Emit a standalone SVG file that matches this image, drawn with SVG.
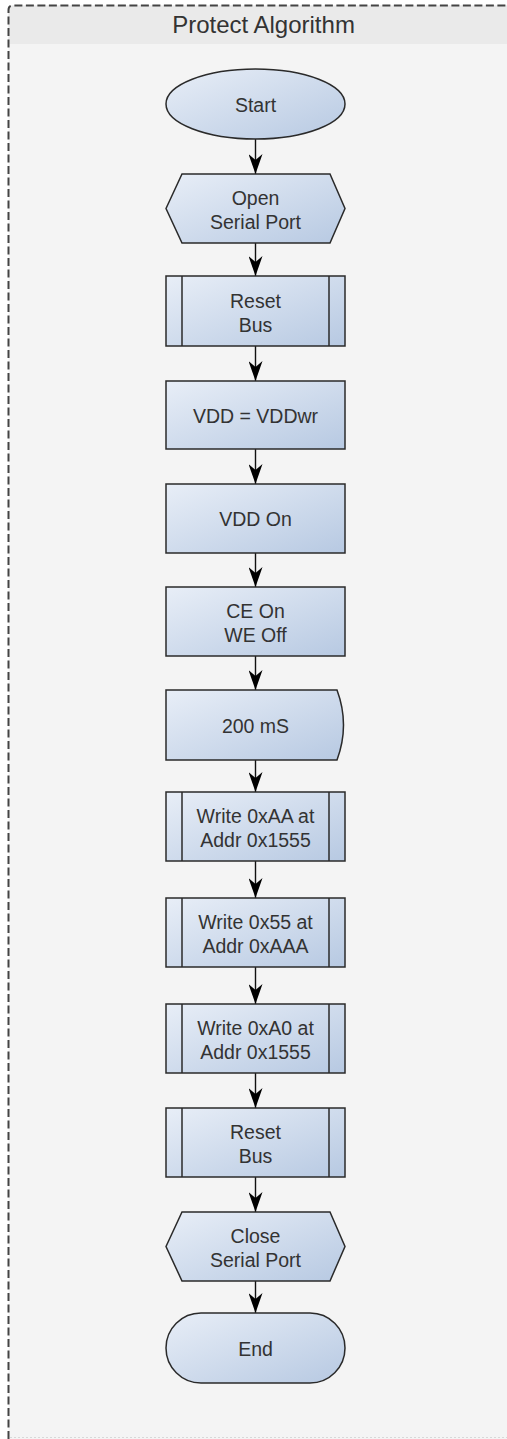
<svg xmlns="http://www.w3.org/2000/svg" width="507" height="1439" viewBox="0 0 507 1439">
<style>
.shape{fill:url(#g);stroke:#2a2a2a;stroke-width:1.5}
.inner{stroke:#2a2a2a;stroke-width:1.5;fill:none}
.t{font-family:"Liberation Sans",Arial,sans-serif;font-size:19.5px;fill:#333;text-anchor:middle}
.conn line{stroke:#111;stroke-width:1.4;marker-end:url(#ah)}
</style>
<defs>
<linearGradient id="g" x1="0" y1="0" x2="1" y2="1">
<stop offset="0" stop-color="#e8eef7"/>
<stop offset="1" stop-color="#b7c9e2"/>
</linearGradient>
<marker id="ah" viewBox="0 0 20 14" refX="20" refY="7" markerWidth="20" markerHeight="14" markerUnits="userSpaceOnUse" orient="auto">
<path d="M0,0 L20,7 L0,14 L6,7 z" fill="#000"/>
</marker>
</defs>
<rect x="0" y="0" width="507" height="1439" fill="#fff"/>
<g id="frame">
<path d="M8.5,1439 V10 Q8.5,5.5 13,5.5 H507 V1439 Z" fill="#f4f4f4"/>
<path d="M8.5,44 V10 Q8.5,5.5 13,5.5 H507 V44 Z" fill="#eaeaea"/>
<path d="M8.5,1439 V10 Q8.5,5.5 13,5.5 H507" fill="none" stroke="#444" stroke-width="2" stroke-dasharray="8,3.5"/>
<line x1="10" y1="1437.5" x2="507" y2="1437.5" stroke="#d8d8d8" stroke-width="1" stroke-dasharray="2,2"/>
<text x="263.5" y="33" font-family="'Liberation Sans',Arial,sans-serif" font-size="24" fill="#333" text-anchor="middle">Protect Algorithm</text>
</g>
<g id="connectors" class="conn">
<line x1="255.5" y1="139" x2="255.5" y2="174"/>
<line x1="255.5" y1="243" x2="255.5" y2="276"/>
<line x1="255.5" y1="346" x2="255.5" y2="381"/>
<line x1="255.5" y1="449" x2="255.5" y2="484"/>
<line x1="255.5" y1="553" x2="255.5" y2="587"/>
<line x1="255.5" y1="656" x2="255.5" y2="690"/>
<line x1="255.5" y1="760" x2="255.5" y2="792"/>
<line x1="255.5" y1="861" x2="255.5" y2="898"/>
<line x1="255.5" y1="967" x2="255.5" y2="1004"/>
<line x1="255.5" y1="1073" x2="255.5" y2="1108"/>
<line x1="255.5" y1="1177" x2="255.5" y2="1212"/>
<line x1="255.5" y1="1281" x2="255.5" y2="1313"/>
</g>
<g id="start">
<ellipse class="shape" cx="255.5" cy="104" rx="89.5" ry="35"/>
<text class="t" x="255.5" y="112">Start</text>
</g>
<g id="open-port">
<path class="shape" d="M166,208.5 L182,174 H330 L345,208.5 L330,243 H182 Z"/>
<text class="t" x="255.5" y="205">Open</text>
<text class="t" x="255.5" y="229">Serial Port</text>
</g>
<g id="reset-bus-1">
<rect class="shape" x="166" y="276" width="179" height="70"/>
<line class="inner" x1="182" y1="276" x2="182" y2="346"/>
<line class="inner" x1="329" y1="276" x2="329" y2="346"/>
<text class="t" x="255.5" y="308">Reset</text>
<text class="t" x="255.5" y="332">Bus</text>
</g>
<g id="vdd-set">
<rect class="shape" x="166" y="381" width="179" height="68"/>
<text class="t" x="255.5" y="423">VDD = VDDwr</text>
</g>
<g id="vdd-on">
<rect class="shape" x="166" y="484" width="179" height="69"/>
<text class="t" x="255.5" y="526">VDD On</text>
</g>
<g id="ce-we">
<rect class="shape" x="166" y="587" width="179" height="69"/>
<text class="t" x="255.5" y="618">CE On</text>
<text class="t" x="255.5" y="642">WE Off</text>
</g>
<g id="delay">
<path class="shape" d="M166,690 H337 Q350,725 337,760 H166 Z"/>
<text class="t" x="255.5" y="733">200 mS</text>
</g>
<g id="write-aa">
<rect class="shape" x="166" y="792" width="179" height="69"/>
<line class="inner" x1="182" y1="792" x2="182" y2="861"/>
<line class="inner" x1="329" y1="792" x2="329" y2="861"/>
<text class="t" x="255.5" y="823">Write 0xAA at</text>
<text class="t" x="255.5" y="847">Addr 0x1555</text>
</g>
<g id="write-55">
<rect class="shape" x="166" y="898" width="179" height="69"/>
<line class="inner" x1="182" y1="898" x2="182" y2="967"/>
<line class="inner" x1="329" y1="898" x2="329" y2="967"/>
<text class="t" x="255.5" y="929">Write 0x55 at</text>
<text class="t" x="255.5" y="953">Addr 0xAAA</text>
</g>
<g id="write-a0">
<rect class="shape" x="166" y="1004" width="179" height="69"/>
<line class="inner" x1="182" y1="1004" x2="182" y2="1073"/>
<line class="inner" x1="329" y1="1004" x2="329" y2="1073"/>
<text class="t" x="255.5" y="1035">Write 0xA0 at</text>
<text class="t" x="255.5" y="1059">Addr 0x1555</text>
</g>
<g id="reset-bus-2">
<rect class="shape" x="166" y="1108" width="179" height="69"/>
<line class="inner" x1="182" y1="1108" x2="182" y2="1177"/>
<line class="inner" x1="329" y1="1108" x2="329" y2="1177"/>
<text class="t" x="255.5" y="1139">Reset</text>
<text class="t" x="255.5" y="1163">Bus</text>
</g>
<g id="close-port">
<path class="shape" d="M166,1246.5 L182,1212 H330 L345,1246.5 L330,1281 H182 Z"/>
<text class="t" x="255.5" y="1243">Close</text>
<text class="t" x="255.5" y="1267">Serial Port</text>
</g>
<g id="end">
<rect class="shape" x="166" y="1313" width="179" height="70" rx="35" ry="35"/>
<text class="t" x="255.5" y="1356">End</text>
</g>
</svg>
